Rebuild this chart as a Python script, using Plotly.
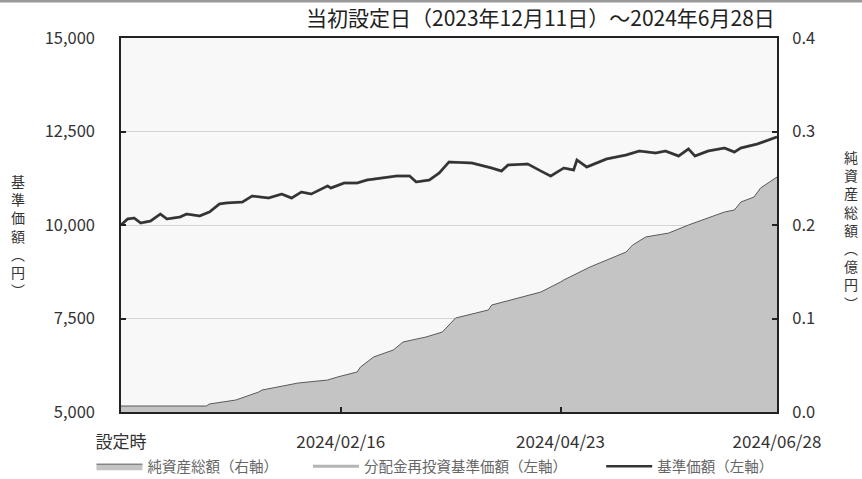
import plotly.graph_objects as go

# 基準価額 (left axis, 円)
nav_dates = [
    "2023-12-11", "2023-12-13", "2023-12-15", "2023-12-17", "2023-12-20", "2023-12-23",
    "2023-12-25", "2023-12-29", "2023-12-31", "2024-01-04", "2024-01-07", "2024-01-10",
    "2024-01-12", "2024-01-17", "2024-01-20", "2024-01-25", "2024-01-29", "2024-02-01",
    "2024-02-04", "2024-02-07", "2024-02-12", "2024-02-13", "2024-02-17", "2024-02-21",
    "2024-02-24", "2024-02-28", "2024-03-04", "2024-03-08", "2024-03-10", "2024-03-14",
    "2024-03-17", "2024-03-20", "2024-03-27", "2024-04-02", "2024-04-05", "2024-04-07",
    "2024-04-13", "2024-04-17", "2024-04-20", "2024-04-24", "2024-04-27", "2024-04-28",
    "2024-05-01", "2024-05-07", "2024-05-13", "2024-05-17", "2024-05-22", "2024-05-25",
    "2024-05-29", "2024-06-01", "2024-06-03", "2024-06-07", "2024-06-12", "2024-06-15",
    "2024-06-17", "2024-06-22", "2024-06-28",
]
nav_values = [
    10000, 10160, 10187, 10053, 10107, 10294,
    10160, 10214, 10294, 10241, 10348, 10561,
    10588, 10615, 10775, 10722, 10829, 10722,
    10882, 10829, 11043, 10989, 11123, 11123,
    11203, 11257, 11310, 11310, 11150, 11203,
    11390, 11684, 11658, 11524, 11444, 11604,
    11631, 11444, 11310, 11524, 11471, 11738,
    11551, 11765, 11872, 11979, 11925, 11979,
    11845, 12032, 11845, 11979, 12059, 11952,
    12059, 12166, 12353,
]
# 分配金再投資基準価額 (no distributions -> same as NAV)
reinv_values = list(nav_values)

# 純資産総額 (right axis, 億円)
aum_dates = [
    "2023-12-11", "2024-01-06", "2024-01-07", "2024-01-15", "2024-01-22", "2024-01-23",
    "2024-02-03", "2024-02-12", "2024-02-15", "2024-02-21", "2024-02-22", "2024-02-26",
    "2024-03-03", "2024-03-06", "2024-03-13", "2024-03-18", "2024-03-22", "2024-04-01",
    "2024-04-02", "2024-04-17", "2024-04-23", "2024-04-24", "2024-05-02", "2024-05-13",
    "2024-05-15", "2024-05-19", "2024-05-26", "2024-06-01", "2024-06-12", "2024-06-15",
    "2024-06-17", "2024-06-21", "2024-06-23", "2024-06-28",
]
aum_values = [
    0.0064, 0.0064, 0.0086, 0.0128, 0.0214, 0.0235,
    0.0310, 0.0342, 0.0374, 0.0428, 0.0481, 0.0588,
    0.0663, 0.0749, 0.0802, 0.0856, 0.1005, 0.1091,
    0.1144, 0.1283, 0.1390, 0.1412, 0.1551, 0.1711,
    0.1786, 0.1872, 0.1914, 0.2000, 0.2139, 0.2160,
    0.2246, 0.2299, 0.2396, 0.2513,
]

x_tick_vals = ["2023-12-11", "2024-02-16", "2024-04-23", "2024-06-28"]
x_tick_text = ["設定時", "2024/02/16", "2024/04/23", "2024/06/28"]
left_ticks = [5000, 7500, 10000, 12500, 15000]
right_ticks = [0.0, 0.1, 0.2, 0.3, 0.4]

title_text = "当初設定日（2023年12月11日）～2024年6月28日"
left_title = "基準価額︵円︶"
right_title = "純資産総額︵億円︶"

FONT = "Noto Sans CJK JP, Noto Sans, sans-serif"

fig = go.Figure()

fig.add_trace(go.Scatter(
    x=aum_dates, y=aum_values, name="純資産総額（右軸）",
    mode="lines", fill="tozeroy", fillcolor="#c4c4c4",
    line=dict(color="#5a5a5a", width=1), yaxis="y", legend="legend",
))
fig.add_trace(go.Scatter(
    x=nav_dates, y=reinv_values, name="分配金再投資基準価額（左軸）",
    mode="lines", line=dict(color="#b4b4b4", width=3), yaxis="y2", legend="legend2",
))
fig.add_trace(go.Scatter(
    x=nav_dates, y=nav_values, name="基準価額（左軸）",
    mode="lines", line=dict(color="#333333", width=2.5), yaxis="y2", legend="legend3",
))

axis_font = dict(family=FONT, size=16.5, color="#333333")
leg_font = dict(family=FONT, size=14.5, color="#666666")

fig.update_layout(
    width=862, height=479,
    margin=dict(l=121, r=85, t=38, b=67, autoexpand=False),
    paper_bgcolor="white", plot_bgcolor="#f8f8f8",
    font=dict(family=FONT, color="#333333"),
    xaxis=dict(
        type="date", range=["2023-12-11", "2024-06-28"],
        tickvals=x_tick_vals, ticktext=x_tick_text,
        ticks="inside", ticklen=5, tickcolor="#222222", tickwidth=1.5,
        showgrid=False, showline=True, linecolor="#222222", linewidth=2, mirror=True,
        tickfont=dict(family=FONT, size=17, color="#333333"),
        ticklabelstandoff=14, zeroline=False,
    ),
    yaxis=dict(
        side="right", range=[0, 0.4], tickvals=right_ticks, tickformat=".1f",
        ticks="inside", ticklen=5, tickcolor="#222222", tickwidth=1.5,
        showgrid=True, gridcolor="#d4d4d4", gridwidth=1,
        showline=True, linecolor="#222222", linewidth=2, mirror=True,
        tickfont=axis_font, ticklabelstandoff=10, zeroline=False,
    ),
    yaxis2=dict(
        overlaying="y", side="left", range=[5000, 15000], tickvals=left_ticks,
        tickformat=",d", ticks="inside", ticklen=5, tickcolor="#222222", tickwidth=1.5,
        showgrid=False, showline=False, zeroline=False,
        tickfont=axis_font, ticklabelstandoff=25,
    ),
    legend=dict(orientation="h", x=-0.045, y=-0.145, xanchor="left", yanchor="middle",
                font=leg_font, bgcolor="rgba(0,0,0,0)", itemwidth=46),
    legend2=dict(orientation="h", x=0.285, y=-0.145, xanchor="left", yanchor="middle",
                 font=leg_font, bgcolor="rgba(0,0,0,0)", itemwidth=46),
    legend3=dict(orientation="h", x=0.732, y=-0.145, xanchor="left", yanchor="middle",
                 font=leg_font, bgcolor="rgba(0,0,0,0)", itemwidth=46),
    annotations=[
        dict(text=title_text, xref="paper", yref="paper", x=1.0, y=1.0 + 21 / 374,
             xanchor="right", yanchor="middle", showarrow=False,
             font=dict(family=FONT, size=21, color="#222222")),
        dict(text="<br>".join(left_title), xref="paper", yref="paper",
             x=-103 / 656, y=(412 - 235) / 374, xanchor="center", yanchor="middle",
             showarrow=False, font=dict(family=FONT, size=14, color="#333333")),
        dict(text="<br>".join(right_title), xref="paper", yref="paper",
             x=1 + 74 / 656, y=(412 - 230) / 374, xanchor="center", yanchor="middle",
             showarrow=False, font=dict(family=FONT, size=14, color="#333333")),
    ],
    shapes=[
        dict(type="line", xref="paper", yref="paper", x0=-121 / 656, x1=1 + 85 / 656,
             y0=1 + 37 / 374, y1=1 + 37 / 374, line=dict(color="#9a9a9a", width=3)),
    ],
    showlegend=True,
)

fig.write_html("out.html")
